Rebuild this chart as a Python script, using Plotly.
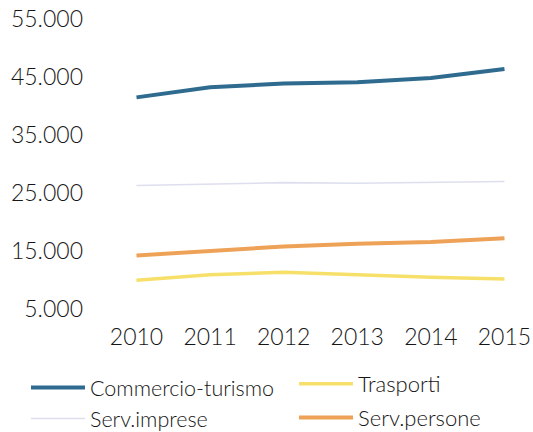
import plotly.graph_objects as go

# Yearly values per sector
years = [2010, 2011, 2012, 2013, 2014, 2015]
year_labels = ["2010", "2011", "2012", "2013", "2014", "2015"]
commercio_turismo = [41400, 43150, 43800, 44000, 44750, 46300]
trasporti = [9850, 10800, 11250, 10800, 10400, 10100]
serv_imprese = [26200, 26500, 26700, 26600, 26700, 26900]
serv_persone = [14150, 15000, 15700, 16150, 16450, 17100]

y_ticks = [5000, 15000, 25000, 35000, 45000, 55000]
y_tick_labels = ["5.000", "15.000", "25.000", "35.000", "45.000", "55.000"]

FONT = "Lato, 'Open Sans', sans-serif"
TEXT = "#161616"
WEIGHT = 300

series = [
    ("Commercio-turismo", commercio_turismo, "#2e6b8f", 4.0, "legend"),
    ("Trasporti", trasporti, "#f6e06a", 3.5, "legend2"),
    ("Serv.imprese", serv_imprese, "#dedfee", 1.6, "legend"),
    ("Serv.persone", serv_persone, "#eea257", 4.0, "legend2"),
]

fig = go.Figure()
for name, values, color, width, leg in series:
    fig.add_trace(go.Scatter(
        x=years, y=values, name=name, mode="lines",
        line=dict(color=color, width=width),
        legend=leg, legendgroup=name,
    ))

legend_style = dict(
    xref="container", yref="container",
    yanchor="top", xanchor="left",
    orientation="v",
    itemwidth=54,
    bgcolor="rgba(0,0,0,0)",
)

fig.update_layout(
    template="none",
    width=533, height=432,
    margin=dict(l=120, r=13, t=5, b=117, autoexpand=False),
    paper_bgcolor="white", plot_bgcolor="white",
    font=dict(family=FONT, size=23, color=TEXT, weight=WEIGHT),
    showlegend=True,
    legend=dict(x=26 / 533, y=1 - 367 / 432, tracegroupgap=0,
                font=dict(family=FONT, size=21.5, color=TEXT, weight=WEIGHT),
                **legend_style),
    legend2=dict(x=294 / 533, y=1 - 363 / 432, tracegroupgap=2,
                 font=dict(family=FONT, size=22, color=TEXT, weight=WEIGHT),
                 **legend_style),
    xaxis=dict(
        range=[2009.776, 2015.211],
        tickvals=years, ticktext=year_labels,
        showgrid=False, zeroline=False, showline=False,
        ticks="", ticklabelstandoff=6, automargin=False,
        tickfont=dict(family=FONT, size=23, color=TEXT, weight=WEIGHT),
    ),
    yaxis=dict(
        range=[3879, 57327],
        tickvals=y_ticks, ticktext=y_tick_labels,
        showgrid=False, zeroline=False, showline=False,
        ticks="", ticklabelstandoff=36, automargin=False,
        tickfont=dict(family=FONT, size=23, color=TEXT, weight=WEIGHT),
    ),
)

fig.write_html("out.html")
